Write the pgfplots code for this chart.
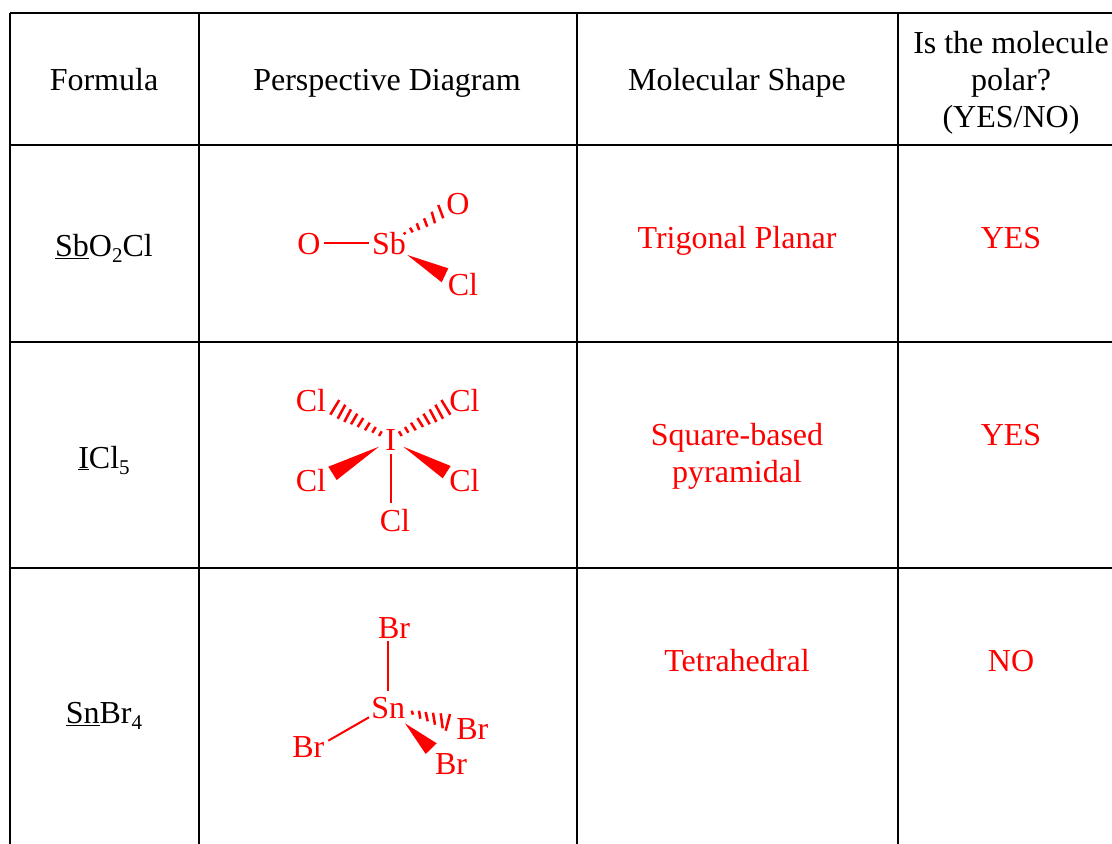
\documentclass[border=0pt]{standalone}
\usepackage{pgfplots}
\pgfplotsset{compat=1.18}
\usepackage{fontspec}
\setmainfont{Liberation Serif}
\newcommand\tabrule[4]{\addplot[black,line width=2pt,forget plot] coordinates {(#1,#2)(#3,#4)};}
\newcommand\bondseg[4]{\addplot[red,line width=2pt,forget plot] coordinates {(#1,#2)(#3,#4)};}
\newcommand\hashseg[4]{\addplot[red,line width=2.5pt,forget plot] coordinates {(#1,#2)(#3,#4)};}
\newcommand\wdg[6]{\addplot[red,fill=red,draw=none,forget plot] coordinates {(#1,#2)(#3,#4)(#5,#6)} -- cycle;}
\newcommand\lab[3]{\node[anchor=base,inner sep=0pt,text=black] at (axis cs:#1,#2) {#3};}
\newcommand\rlab[3]{\node[anchor=base,inner sep=0pt,text=red] at (axis cs:#1,#2) {#3};}
\newcommand\sbs[1]{\raisebox{-0.2em}{\fontsize{21}{21}\selectfont #1}}
\begin{document}
\begin{tikzpicture}
\path[use as bounding box] (0,0) rectangle (1112pt,844pt);
\fontsize{32}{37}\selectfont
\begin{axis}[at={(0,0)},anchor=south west,scale only axis,width=1112pt,height=844pt,
  xmin=0,xmax=1112,ymin=0,ymax=844,y dir=reverse,hide axis,clip=false]
% table rules
\tabrule{10}{13}{1112}{13}
\tabrule{10}{145}{1112}{145}
\tabrule{10}{342}{1112}{342}
\tabrule{10}{568}{1112}{568}
\tabrule{10}{13}{10}{844}
\tabrule{199}{13}{199}{844}
\tabrule{577}{13}{577}{844}
\tabrule{898}{13}{898}{844}
% header
\lab{104}{90}{Formula}
\lab{387}{90}{Perspective Diagram}
\lab{737}{90}{Molecular Shape}
\lab{1011}{53}{Is the molecule}
\lab{1011}{90}{polar?}
\lab{1011}{127}{(YES/NO)}
% formulas
\lab{104}{256}{\underline{Sb}O\sbs{2}Cl}
\lab{104}{468}{\underline{I}Cl\sbs{5}}
\lab{104}{723}{\underline{Sn}Br\sbs{4}}
% answers
\rlab{737}{248}{Trigonal Planar}
\rlab{1011}{248}{YES}
\rlab{737}{445}{Square-based}
\rlab{737}{482}{pyramidal}
\rlab{1011}{445}{YES}
\rlab{737}{671}{Tetrahedral}
\rlab{1011}{671}{NO}
% SbO2Cl
\rlab{309}{254}{O}
\rlab{389}{254}{Sb}
\rlab{458}{214}{O}
\rlab{463}{295}{Cl}
\bondseg{324}{243.3}{369.3}{243.3}
\wdg{407.3}{255}{448.3}{268.3}{441.7}{282.3}
\hashseg{404}{232.3}{405.3}{234.3}
\hashseg{410}{227.7}{412.7}{232.3}
\hashseg{416.7}{223.3}{419.3}{230}
\hashseg{424}{218.3}{427.3}{226.7}
\hashseg{431.7}{211.7}{435}{223.3}
\hashseg{438.3}{205}{443.3}{218.3}
% ICl5
\rlab{390.7}{450}{I}
\rlab{311}{411}{Cl}
\rlab{464.5}{411}{Cl}
\rlab{311}{491}{Cl}
\rlab{464.5}{491}{Cl}
\rlab{395}{531}{Cl}
\wdg{379}{446.7}{328.3}{466.7}{336.7}{480}
\wdg{403.3}{446.7}{450.7}{466}{442.7}{478.3}
\bondseg{390.7}{454}{390.7}{503.3}
\hashseg{330.3}{414.7}{339.3}{400}
\hashseg{337.7}{418.7}{345.3}{404.7}
\hashseg{344.3}{422}{351}{409.3}
\hashseg{351}{424.3}{357.3}{413.7}
\hashseg{357.7}{427}{363.3}{418}
\hashseg{365}{430.3}{369.7}{422.7}
\hashseg{372.3}{432.7}{375.7}{427}
\hashseg{379}{436}{381.7}{431.3}
\hashseg{450.4}{414.7}{441.4}{400}
\hashseg{443}{418.7}{435.4}{404.7}
\hashseg{436.4}{422}{429.7}{409.3}
\hashseg{429.7}{424.3}{423.4}{413.7}
\hashseg{423}{427}{417.4}{418}
\hashseg{415.7}{430.3}{411}{422.7}
\hashseg{408.4}{432.7}{405}{427}
\hashseg{401.7}{436}{399}{431.3}
% SnBr4
\rlab{394}{638}{Br}
\rlab{388.3}{718}{Sn}
\rlab{308.3}{757}{Br}
\rlab{472.3}{739}{Br}
\rlab{451}{774}{Br}
\bondseg{388}{641}{388}{690.7}
\bondseg{328.3}{740.7}{369}{717.3}
\wdg{405}{723.3}{436.7}{743.3}{425.7}{754}
\hashseg{411.7}{710.7}{413}{714.7}
\hashseg{419}{710.7}{420.3}{718.7}
\hashseg{425.7}{712}{427.7}{721.3}
\hashseg{433}{712.7}{435}{724.7}
\hashseg{440.7}{713.3}{442.7}{728.3}
\hashseg{450}{714}{445.7}{730.7}
\end{axis}
\end{tikzpicture}
\end{document}
